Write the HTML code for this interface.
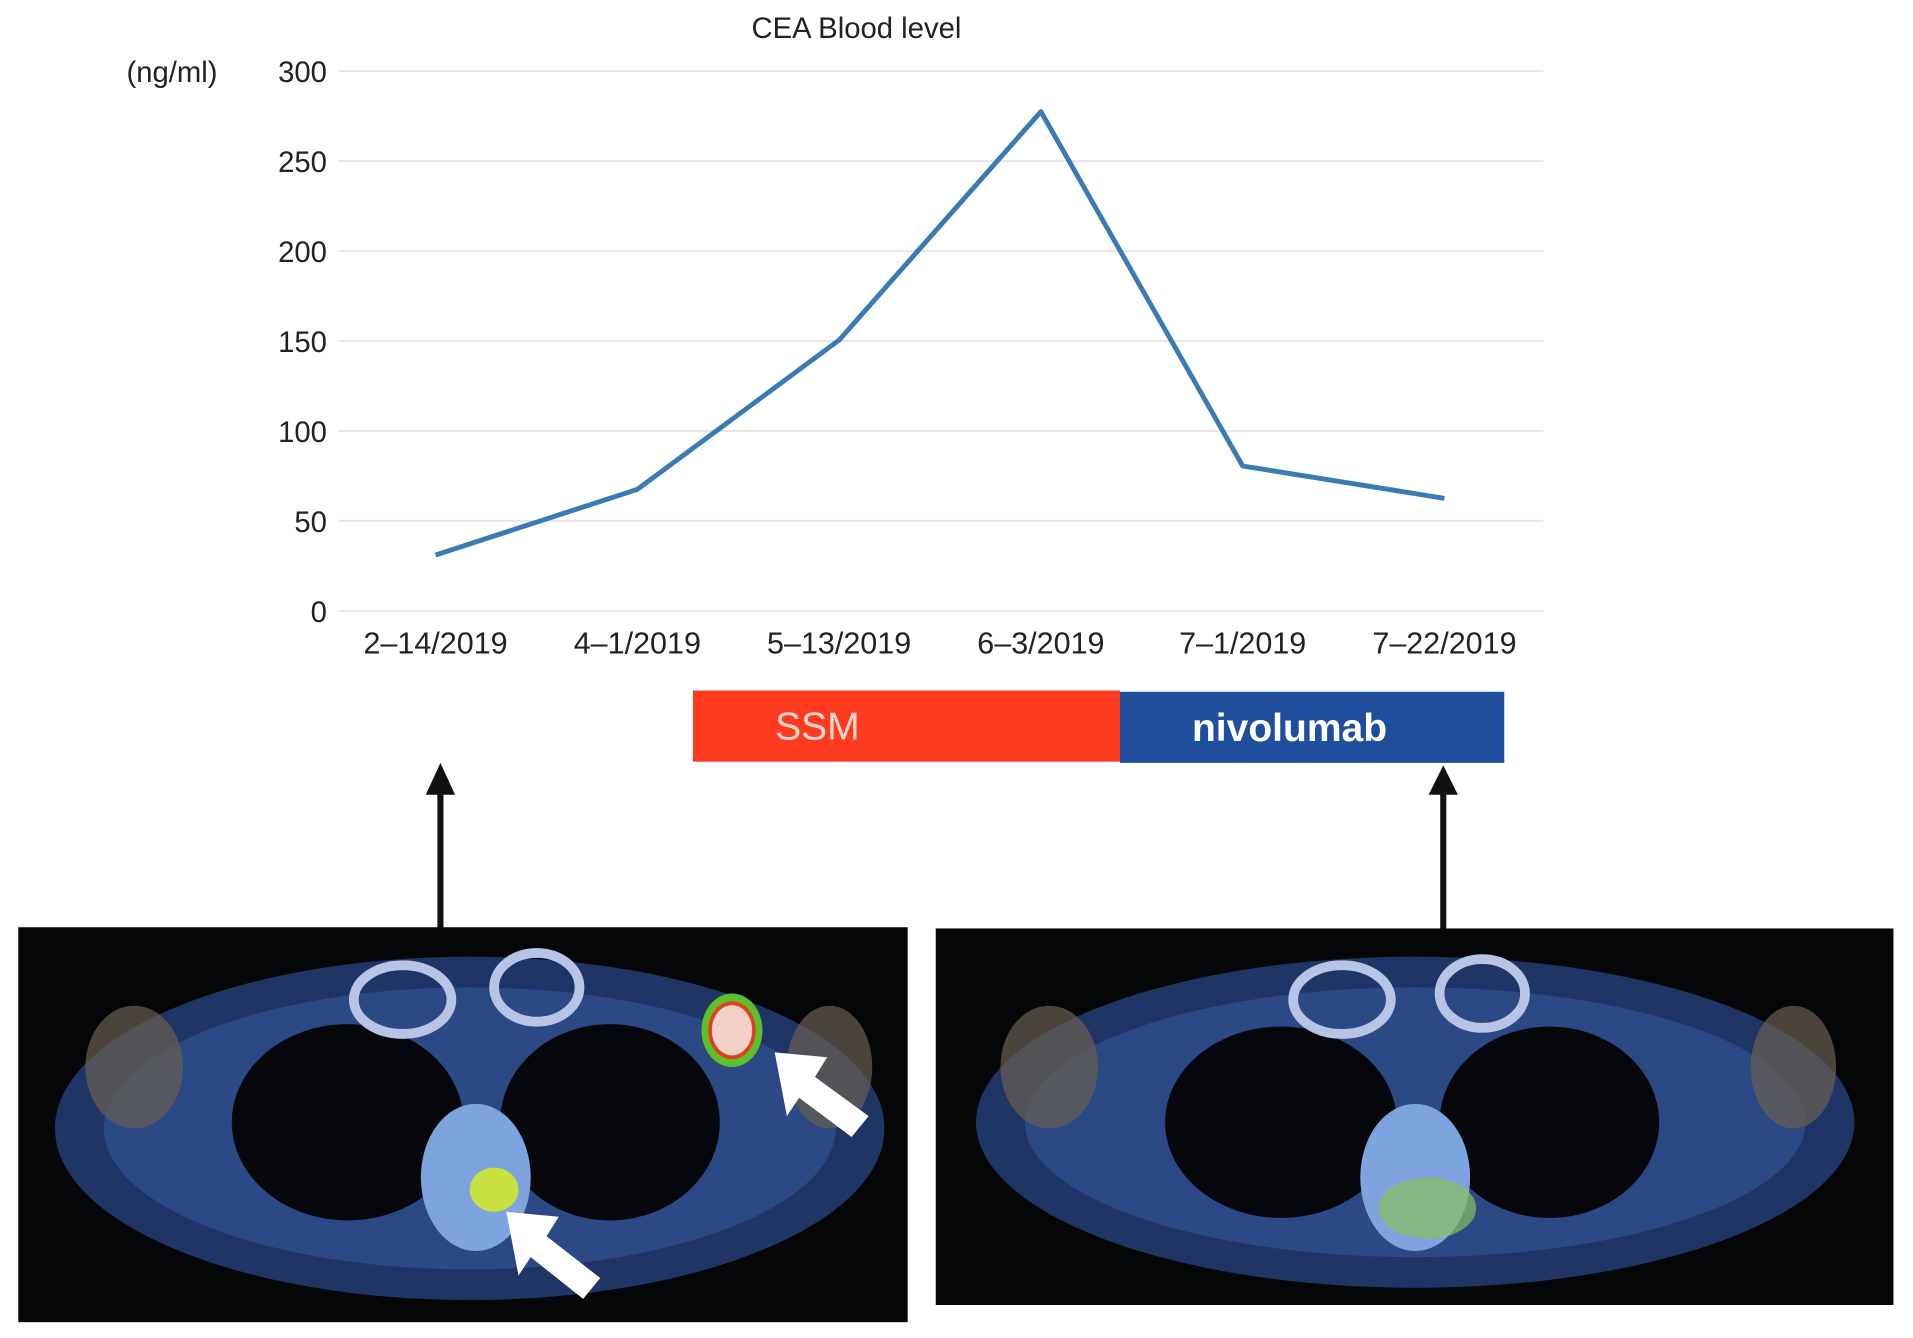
<!DOCTYPE html>
<html><head><meta charset="utf-8">
<style>
html,body{margin:0;padding:0;background:#fff;overflow:hidden;width:1913px;height:1332px}
#wrap{position:absolute;left:0;top:0;width:1568px;height:1086px;transform-origin:0 0;transform:scale(1.2200,1.2265)}
text{font-family:"Liberation Sans",sans-serif}
</style></head><body>
<div id="wrap">
<svg id="chart" width="1568" height="1086" xmlns="http://www.w3.org/2000/svg">
<text x="702" y="31" font-size="24" text-anchor="middle" fill="#222">CEA Blood level</text>
<text x="141" y="67" font-size="24" text-anchor="middle" fill="#222">(ng/ml)</text>
<g id="grid"></g><g id="yt"></g><g id="xt"></g>
<polyline id="line" fill="none" stroke="#3a7bb5" stroke-width="4" stroke-linejoin="round"/>
<rect x="568" y="563" width="350" height="58" fill="#ff3b1f"/>
<text x="670" y="603" font-size="32" text-anchor="middle" fill="#ffd9cf">SSM</text>
<rect x="918" y="564" width="315" height="58" fill="#1f4f9c"/>
<text x="1057" y="604" font-size="32" font-weight="bold" text-anchor="middle" fill="#fff">nivolumab</text>
<g><line x1="361" y1="645" x2="361" y2="757" stroke="#111" stroke-width="5"/><polygon points="349,648 373,648 361,622" fill="#111"/></g>
<g><line x1="1183" y1="645" x2="1183" y2="757" stroke="#111" stroke-width="5"/><polygon points="1171,648 1195,648 1183,624" fill="#111"/></g>
<g>
<rect x="15" y="756" width="729" height="322" fill="#050608"/>
<ellipse cx="385" cy="920" rx="340" ry="140" fill="#1e3566"/>
<ellipse cx="385" cy="920" rx="300" ry="115" fill="#33569a" opacity="0.6"/>
<ellipse cx="110" cy="870" rx="40" ry="50" fill="#6a6050" opacity="0.7"/>
<ellipse cx="680" cy="870" rx="35" ry="50" fill="#6a6050" opacity="0.7"/>
<ellipse cx="285" cy="915" rx="95" ry="80" fill="#05070c"/>
<ellipse cx="500" cy="915" rx="90" ry="80" fill="#05070c"/>
<ellipse cx="330" cy="815" rx="40" ry="28" fill="none" stroke="#b8c4e6" stroke-width="8"/>
<ellipse cx="440" cy="805" rx="35" ry="28" fill="none" stroke="#b8c4e6" stroke-width="8"/>
<ellipse cx="390" cy="960" rx="45" ry="60" fill="#7ea4e0"/>
<ellipse cx="405" cy="970" rx="20" ry="18" fill="#c8e040"/>
<ellipse cx="600" cy="840" rx="25" ry="30" fill="#5fbf2a"/>
<ellipse cx="600" cy="840" rx="18" ry="22" fill="#f2d0c8" stroke="#e04020" stroke-width="3"/>
<polygon points="635,858 678,862 668,878 712,910 698,927 655,895 645,910" fill="#fff"/>
<polygon points="415,988 458,992 448,1008 492,1042 478,1059 435,1025 425,1040" fill="#fff"/>
</g>
<g>
<rect x="767" y="757" width="785" height="307" fill="#050608"/>
<ellipse cx="1160" cy="915" rx="360" ry="135" fill="#1e3566"/>
<ellipse cx="1160" cy="915" rx="320" ry="110" fill="#33569a" opacity="0.6"/>
<ellipse cx="860" cy="870" rx="40" ry="50" fill="#6a6050" opacity="0.7"/>
<ellipse cx="1470" cy="870" rx="35" ry="50" fill="#6a6050" opacity="0.7"/>
<ellipse cx="1050" cy="915" rx="95" ry="78" fill="#05070c"/>
<ellipse cx="1270" cy="915" rx="90" ry="78" fill="#05070c"/>
<ellipse cx="1100" cy="815" rx="40" ry="28" fill="none" stroke="#b8c4e6" stroke-width="8"/>
<ellipse cx="1215" cy="810" rx="35" ry="28" fill="none" stroke="#b8c4e6" stroke-width="8"/>
<ellipse cx="1160" cy="960" rx="45" ry="60" fill="#7ea4e0"/>
<ellipse cx="1170" cy="985" rx="40" ry="25" fill="#8ac060" opacity="0.7"/>
</g>
</svg>
</div>
<script>
const categories=["2\u201314/2019","4\u20131/2019","5\u201313/2019","6\u20133/2019","7\u20131/2019","7\u201322/2019"];
const ceaValues=[31,67.5,150.5,277.5,80.5,62.5];
const yTicks=[0,50,100,150,200,250,300];
const NS="http://www.w3.org/2000/svg";
const y0=498,y1=58,ymax=300,x0=357,dx=165.4;
const ys=v=>y0-(v/ymax)*(y0-y1);
const xs=i=>x0+i*dx;
const grid=document.getElementById('grid'),yt=document.getElementById('yt'),xt=document.getElementById('xt');
yTicks.forEach(t=>{
 const l=document.createElementNS(NS,'line');
 l.setAttribute('x1',278);l.setAttribute('x2',1265);l.setAttribute('y1',ys(t));l.setAttribute('y2',ys(t));
 l.setAttribute('stroke','#e4e4e4');l.setAttribute('stroke-width','1.5');
 
 
 grid.appendChild(l);
 const tx=document.createElementNS(NS,'text');
 tx.setAttribute('x',268);tx.setAttribute('y',ys(t)+9);tx.setAttribute('text-anchor','end');tx.setAttribute('font-size','24');tx.setAttribute('fill','#222');
 tx.textContent=t;
 
 
 yt.appendChild(tx);
});
categories.forEach((c,i)=>{
 const tx=document.createElementNS(NS,'text');
 tx.setAttribute('x',xs(i));tx.setAttribute('y',533);tx.setAttribute('text-anchor','middle');tx.setAttribute('font-size','25');tx.setAttribute('fill','#222');
 tx.textContent=c;
 
 
 xt.appendChild(tx);
});
document.getElementById('line').setAttribute('points',ceaValues.map((v,i)=>xs(i)+','+ys(v)).join(' '));
</script>
</body></html>
